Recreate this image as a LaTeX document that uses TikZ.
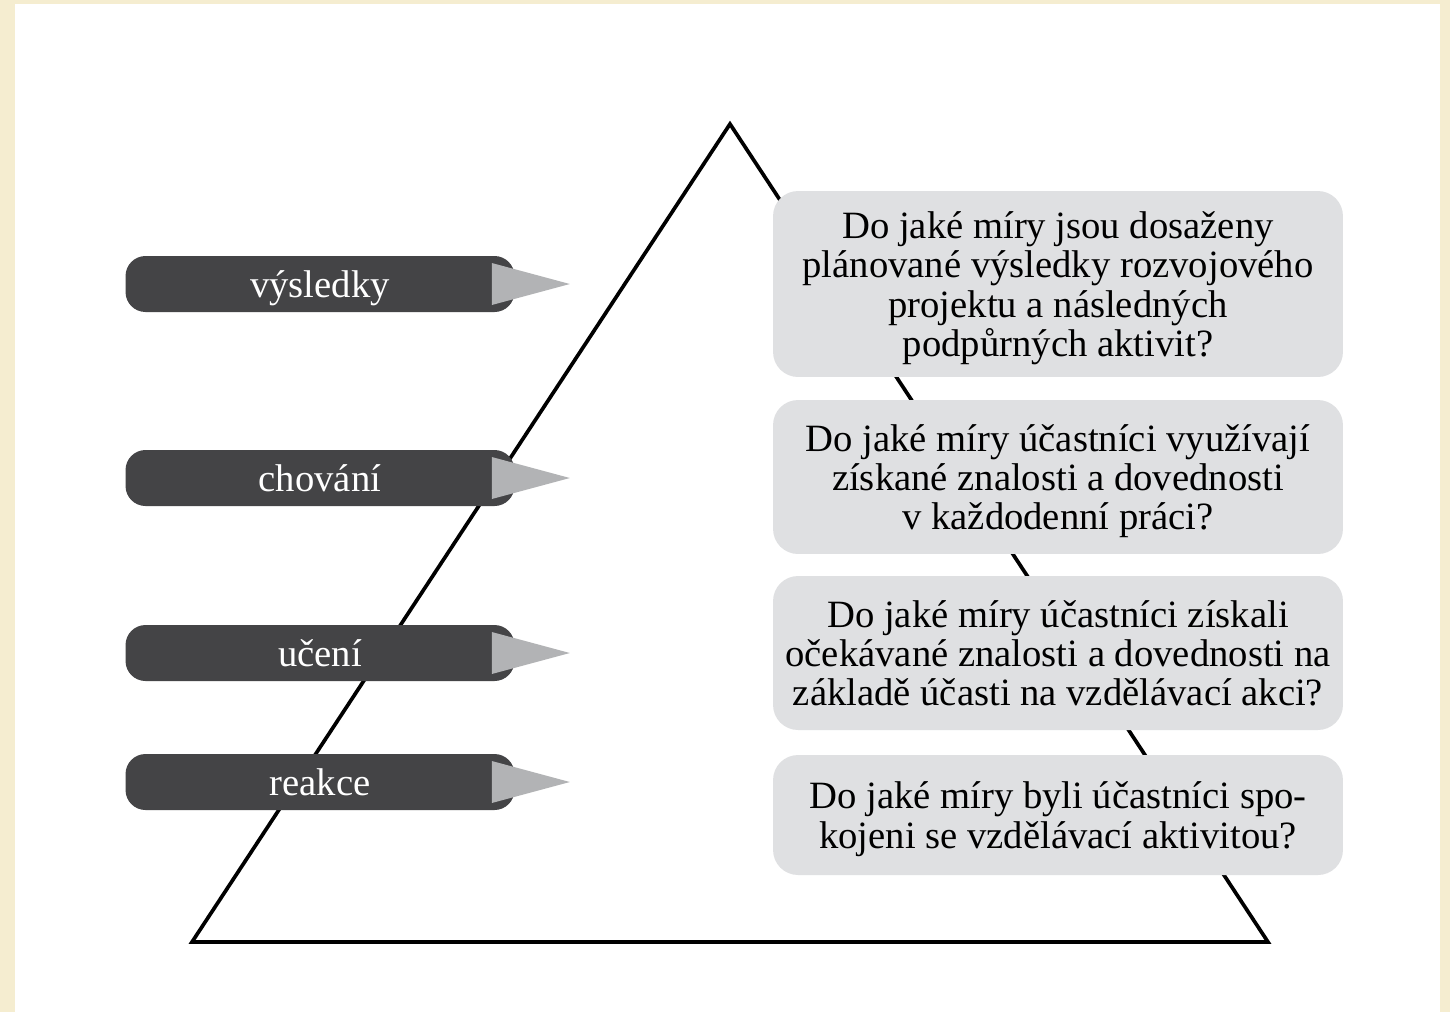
\documentclass[tikz,border=0pt]{standalone}
\usepackage{fontspec}
\setmainfont{Liberation Serif}
\usetikzlibrary{calc}
\definecolor{pagebeige}{HTML}{F5EDD0}
\definecolor{labeldark}{HTML}{444446}
\definecolor{arrowgray}{HTML}{B2B3B5}
\definecolor{boxgray}{HTML}{DFE0E2}

\begin{document}
\begin{tikzpicture}[x=0.02cm,y=-0.02cm,
  level/.style={rectangle,rounded corners=0.4cm,fill=labeldark,text=white,
    minimum width=7.78cm,minimum height=1.12cm,inner sep=0pt,text depth=0pt,
    font=\fontsize{22pt}{22pt}\selectfont},
  question/.style={rectangle,rounded corners=0.5cm,fill=boxgray,align=center,
    minimum width=11.4cm,inner sep=0pt,text depth=0pt,
    font=\fontsize{22pt}{22.3pt}\selectfont},
  pointer/.style={fill=arrowgray}]
  % background and page
  \fill[pagebeige] (0,0) rectangle (1450,1012);
  \fill[white] (15,4) rectangle (1440,1012);
  % pyramid
  \draw[line width=2.1pt,line join=miter] (730,124) -- (192,942) -- (1268,942) -- cycle;
  % questions
  \node[question,minimum height=3.72cm] (q4) at (1058,284)
    {Do jaké míry jsou dosaženy\\plánované výsledky rozvojového\\projektu a následných\\podpůrných aktivit?};
  \node[question,minimum height=3.08cm] (q3) at (1058,477)
    {Do jaké míry účastníci využívají\\získané znalosti a dovednosti\\v každodenní práci?};
  \node[question,minimum height=3.08cm] (q2) at (1058,653)
    {Do jaké míry účastníci získali\\očekávané znalosti a dovednosti na\\základě účasti na vzdělávací akci?};
  \node[question,minimum height=2.4cm] (q1) at (1058,815)
    {Do jaké míry byli účastníci spo-\\kojeni se vzdělávací aktivitou?};
  % levels
  \node[level] (vysledky) at (320,284) {výsledky};
  \node[level] (chovani) at (320,478) {chování};
  \node[level] (uceni) at (320,653) {učení};
  \node[level] (reakce) at (320,782) {reakce};
  \foreach \n in {vysledky,chovani,uceni,reakce}
    \fill[pointer] ($(\n.east)+(-23,-21)$) -- ($(\n.east)+(55,0)$) -- ($(\n.east)+(-23,21)$) -- cycle;
\end{tikzpicture}
\end{document}
